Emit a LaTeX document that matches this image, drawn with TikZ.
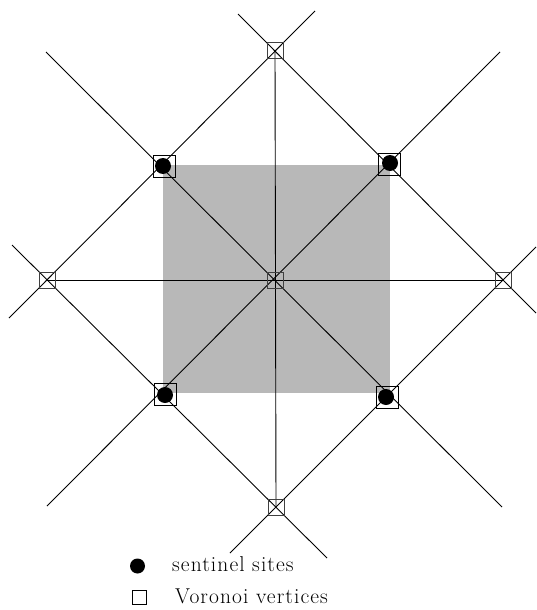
\documentclass[tikz,border=0pt]{standalone}
\usepackage{fontspec}
\newfontfamily\lblfont{Latin Modern Roman}[LetterSpace=5.0]
\begin{document}
\begin{tikzpicture}[x=1pt,y=-1pt,
  edge/.style={line width=0.9pt,black},
  vbox/.style={draw=black!75,line width=1pt,minimum size=16pt,inner sep=0pt,rectangle},
  sbox/.style={draw=black,line width=1pt,minimum size=22pt,inner sep=0pt,rectangle},
  dot/.style={circle,fill=black,minimum size=16pt,inner sep=0pt},
  lbl/.style={anchor=base west,inner sep=0pt,font=\lblfont\fontsize{21.5}{24}\selectfont}]
\useasboundingbox (0,0) rectangle (536,610);
% gray square
\fill[black!28] (163,165) rectangle (390,393);
% coordinates
\coordinate (T) at (275,51);
\coordinate (R) at (503,280);
\coordinate (B) at (276,507);
\coordinate (L) at (47,280);
\coordinate (C) at (275,280);
\coordinate (tr1) at (238,14);   \coordinate (tr2) at (536,313);
\coordinate (tl1) at (315,11);   \coordinate (tl2) at (9,318);
\coordinate (bl1) at (12,245);   \coordinate (bl2) at (327,558);
\coordinate (br1) at (536,247);  \coordinate (br2) at (230,553);
\coordinate (d1) at (46,52);     \coordinate (d2) at (502,507);
\coordinate (d3) at (500,52);    \coordinate (d4) at (47,506);
% lines
\draw[edge] (tr1) -- (tr2);
\draw[edge] (tl1) -- (tl2);
\draw[edge] (bl1) -- (bl2);
\draw[edge] (br1) -- (br2);
\draw[edge] (d1) -- (d2);
\draw[edge] (d3) -- (d4);
\draw[edge] (T) -- (B);
\draw[edge] (L) -- (R);
% Voronoi vertices
\node[vbox] (vT) at (T) {};
\node[vbox] (vR) at (R) {};
\node[vbox] (vB) at (B) {};
\node[vbox] (vL) at (L) {};
\node[vbox] (vC) at (C) {};
% sentinel sites
\node[dot] (s1) at (163,166) {};
\node[sbox] (q1) at (164,166) {};
\node[dot] (s2) at (390,163) {};
\node[sbox] (q2) at (389,164) {};
\node[dot] (s3) at (165,395) {};
\node[sbox] (q3) at (165,394) {};
\node[dot] (s4) at (386,397) {};
\node[sbox] (q4) at (387,397) {};
% legend
\node[circle,fill=black,minimum size=15pt,inner sep=0pt] (ld) at (137.5,566) {};
\node[lbl] (lt1) at (172,571) {sentinel sites};
\node[draw=black,line width=0.8pt,minimum size=14pt,inner sep=0pt] (lq) at (139,597) {};
\node[lbl] (lt2) at (175,603) {Voronoi vertices};
\end{tikzpicture}
\end{document}
